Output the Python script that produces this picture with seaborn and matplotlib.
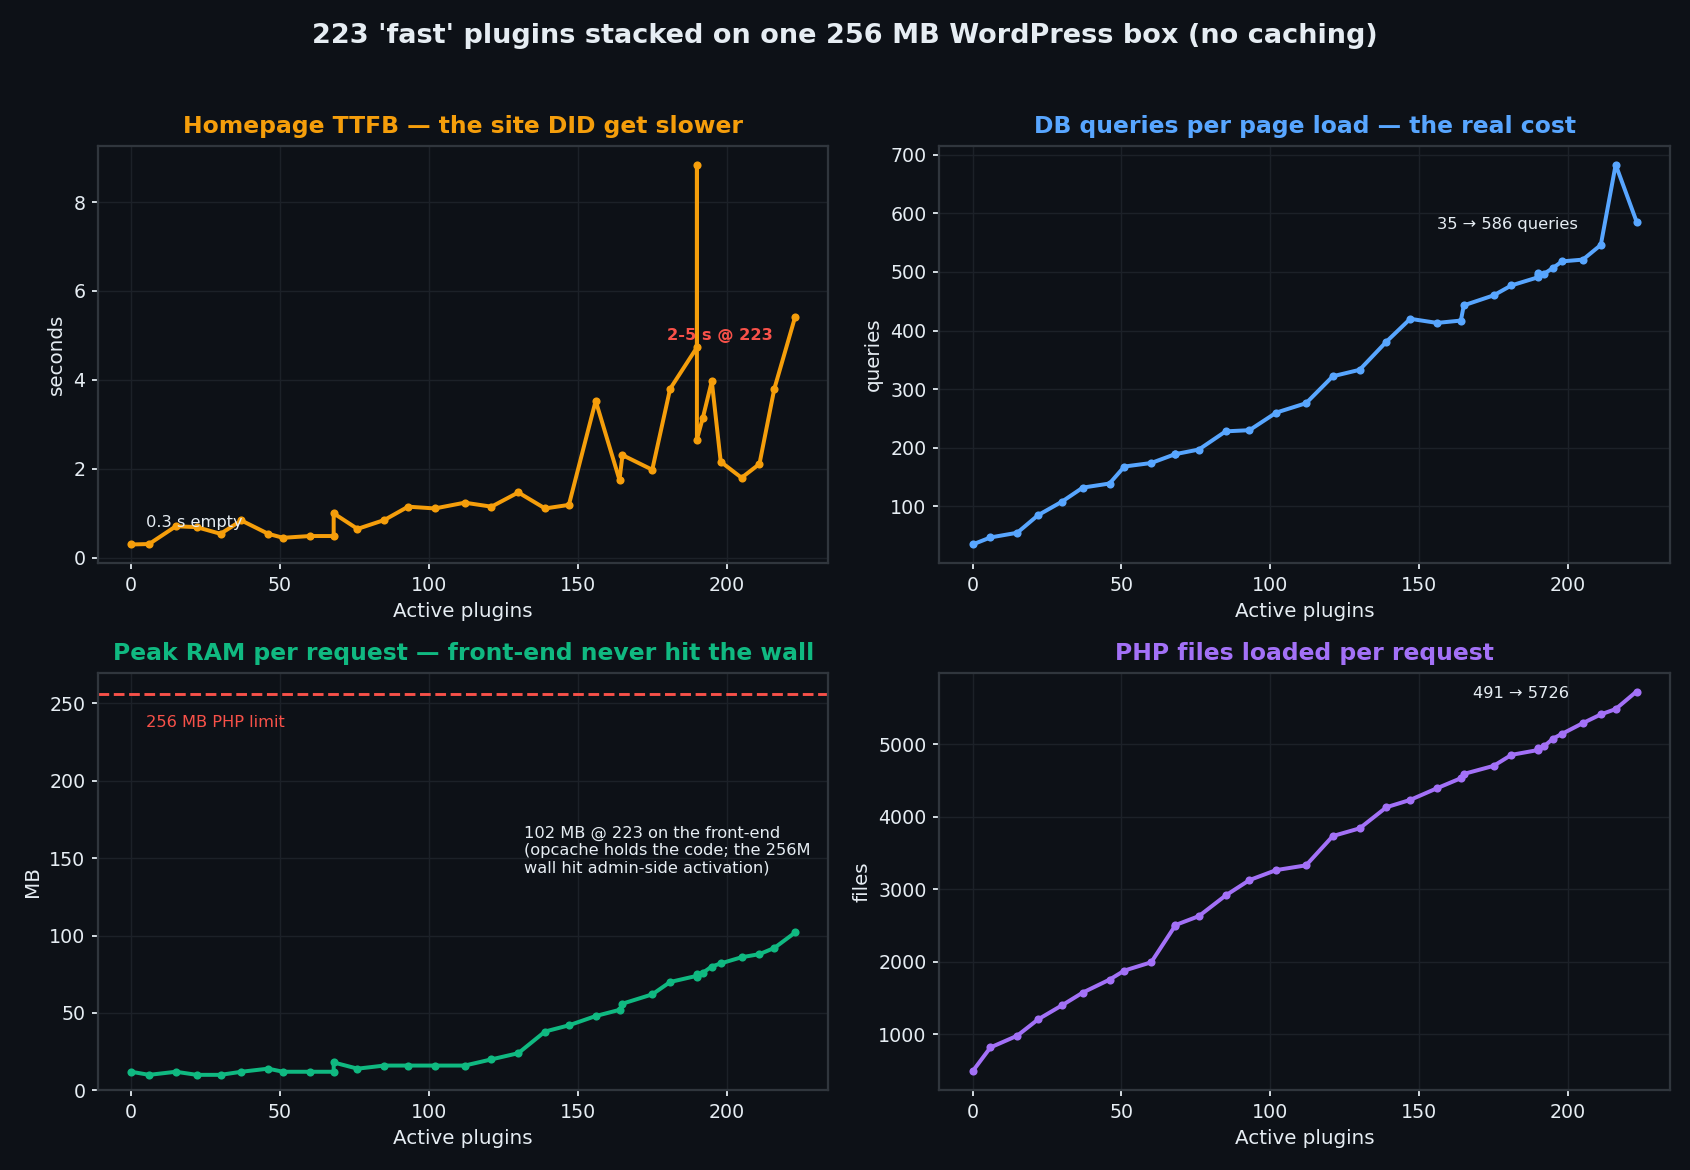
import numpy as np
import pandas as pd
import matplotlib
matplotlib.use('Agg')
import matplotlib.pyplot as plt
import seaborn as sns

# active plugin counts (same sample points for every panel)
plugins = [0, 6, 15, 22, 30, 37, 46, 51, 60, 68, 68, 76, 85, 93, 102, 112, 121, 130,
           139, 147, 156, 164, 165, 175, 181, 190, 190, 190, 192, 195, 198, 205, 211, 216, 223]
# homepage TTFB, seconds
ttfb = [0.30, 0.31, 0.71, 0.69, 0.54, 0.84, 0.54, 0.45, 0.49, 0.49, 1.00, 0.65, 0.85, 1.15,
        1.11, 1.24, 1.15, 1.47, 1.11, 1.19, 3.53, 1.75, 2.31, 1.98, 3.80, 4.73, 8.84, 2.66,
        3.15, 3.97, 2.16, 1.80, 2.11, 3.80, 5.42]
# DB queries per page load
queries = [35, 47, 55, 85, 108, 132, 139, 168, 174, 189, 189, 197, 228, 230, 260, 276, 322,
           333, 381, 420, 413, 417, 443, 460, 477, 491, 498, 495, 497, 507, 518, 521, 546, 683, 586]
# peak RAM per request, MB
ram = [12, 10, 12, 10, 10, 12, 14, 12, 12, 12, 18, 14, 16, 16, 16, 16, 20, 24, 38, 42, 48,
       52, 56, 62, 70, 74, 73, 75, 76, 80, 82, 86, 88, 92, 102]
# PHP files loaded per request
files = [491, 820, 982, 1207, 1400, 1576, 1755, 1880, 1994, 2495, 2505, 2630, 2915, 3127,
         3265, 3330, 3734, 3840, 4131, 4232, 4393, 4531, 4590, 4701, 4853, 4920, 4950, 4932,
         4973, 5078, 5143, 5291, 5410, 5484, 5726]
php_limit = 256

bg = '#0d1117'
fg = '#e6edf3'
orange = '#f59e0b'
blue = '#58a6ff'
green = '#10b981'
purple = '#a371f7'
red = '#f85149'

sns.set_theme(style='dark', rc={
    'figure.facecolor': bg, 'axes.facecolor': bg, 'axes.edgecolor': '#30363d',
    'axes.labelcolor': fg, 'xtick.color': fg, 'ytick.color': fg, 'text.color': fg,
    'axes.grid': True, 'grid.color': '#1c2128', 'grid.linewidth': 0.8,
    'xtick.bottom': True, 'ytick.left': True, 'xtick.major.size': 3.5,
    'ytick.major.size': 3.5, 'xtick.major.width': 1.0, 'ytick.major.width': 1.0,
})
plt.rcParams['font.family'] = ['DejaVu Sans']

df = pd.DataFrame({'plugins': plugins, 'ttfb': ttfb, 'queries': queries,
                   'ram': ram, 'files': files})

fig, axes = plt.subplots(2, 2, figsize=(13, 9), dpi=130)
fig.subplots_adjust(left=0.058, right=0.988, top=0.8755, bottom=0.0681,
                    wspace=0.152, hspace=0.261)

panels = [
    (axes[0, 0], 'ttfb', orange, 'Homepage TTFB — the site DID get slower', 'seconds'),
    (axes[0, 1], 'queries', blue, 'DB queries per page load — the real cost', 'queries'),
    (axes[1, 0], 'ram', green, 'Peak RAM per request — front-end never hit the wall', 'MB'),
    (axes[1, 1], 'files', purple, 'PHP files loaded per request', 'files'),
]
for ax, col, c, title, ylab in panels:
    sns.lineplot(data=df, x='plugins', y=col, ax=ax, sort=False, estimator=None,
                 color=c, linewidth=2.2, marker='o', markersize=4.5, markeredgewidth=0)
    ax.set_title(title, color=c, fontsize=13, fontweight='bold', pad=7)
    ax.set_xlabel('Active plugins', fontsize=11)
    ax.set_ylabel(ylab, fontsize=11)
    ax.tick_params(labelsize=10.5)
    for s in ax.spines.values():
        s.set_color('#30363d')

ax = axes[0, 0]
ax.text(5, 0.7, '0.3 s empty', fontsize=9, color=fg)
ax.text(180, 4.9, '2-5 s @ 223', fontsize=9, color=red, fontweight='bold')

ax = axes[0, 1]
ax.text(156, 574, '35 → 586 queries', fontsize=9, color=fg)

ax = axes[1, 0]
ax.axhline(php_limit, color=red, linestyle='--', linewidth=1.6)
ax.text(5, 235, '256 MB PHP limit', fontsize=9, color=red)
ax.text(132, 171, '102 MB @ 223 on the front-end\n(opcache holds the code; the 256M\n'
        'wall hit admin-side activation)', fontsize=9, color=fg, va='top')
ax.set_ylim(0, 270)

ax = axes[1, 1]
ax.text(168, 5640, '491 → 5726', fontsize=9, color=fg)

fig.suptitle("223 'fast' plugins stacked on one 256 MB WordPress box (no caching)",
             fontsize=15, fontweight='bold', color=fg, y=0.98)

fig.savefig('out.png', dpi=130, facecolor=bg)
